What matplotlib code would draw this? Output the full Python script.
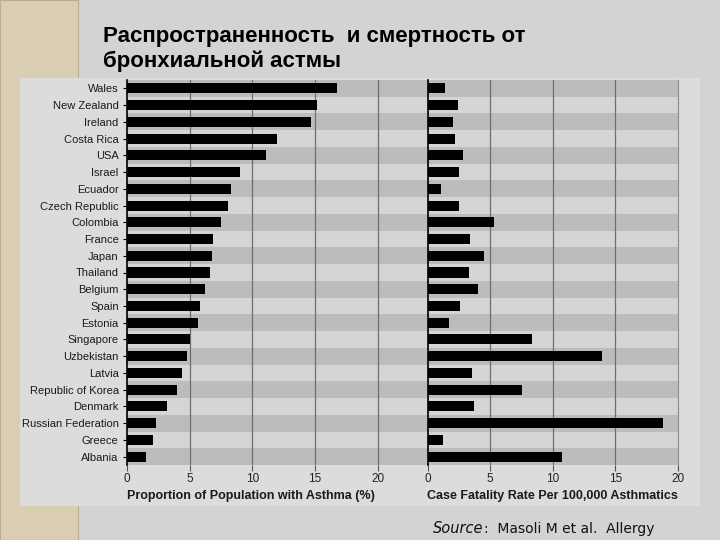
import matplotlib
matplotlib.use("Agg")
import matplotlib.pyplot as plt
from matplotlib.patches import Rectangle

# Data (top row first)
countries = [
    "Wales", "New Zealand", "Ireland", "Costa Rica", "USA", "Israel", "Ecuador",
    "Czech Republic", "Colombia", "France", "Japan", "Thailand", "Belgium",
    "Spain", "Estonia", "Singapore", "Uzbekistan", "Latvia", "Republic of Korea",
    "Denmark", "Russian Federation", "Greece", "Albania",
]
prevalence = [16.8, 15.2, 14.7, 12.0, 11.1, 9.0, 8.3, 8.1, 7.5, 6.9, 6.8, 6.6,
              6.2, 5.8, 5.7, 5.0, 4.8, 4.4, 4.0, 3.2, 2.3, 2.1, 1.5]
fatality = [1.4, 2.4, 2.0, 2.2, 2.8, 2.5, 1.1, 2.5, 5.3, 3.4, 4.5, 3.3,
            4.0, 2.6, 1.7, 8.3, 13.9, 3.5, 7.5, 3.7, 18.8, 1.2, 10.7]
ticks = [0, 5, 10, 15, 20]

title_1 = "Распространенность  и смертность от"
title_2 = "бронхиальной астмы"
xlabel_left = "Proportion of Population with Asthma (%)"
xlabel_right = "Case Fatality Rate Per 100,000 Asthmatics"

SLIDE = "#d3d3d3"
PANEL = "#dcdcdc"
BEIGE = "#d9ceb2"
STRIPE_DARK = "#bcbcbc"
STRIPE_LIGHT = "#d5d5d5"
GRID = "#6e6e6e"
FONT = "Liberation Sans"

fig = plt.figure(figsize=(7.2, 5.4), dpi=100, facecolor=SLIDE)

# slide decoration: beige strip and lighter chart panel (behind the axes)
fig.patches.append(Rectangle((0, 0), 78 / 720, 1, transform=fig.transFigure,
                             facecolor=BEIGE, edgecolor="#b8ad92", lw=0.8, zorder=-10))
fig.patches.append(Rectangle((20 / 720, 1 - 506 / 540), 680 / 720, 428 / 540,
                             transform=fig.transFigure, facecolor=PANEL,
                             edgecolor="none", zorder=-9))

n = len(countries)
ypos = list(range(n - 1, -1, -1))

bottom = 1 - 465 / 540
height = (465 - 80) / 540
ax1 = fig.add_axes([127 / 720, bottom, (427.7 - 127) / 720, height])
ax2 = fig.add_axes([427.7 / 720, bottom, (678 - 427.7) / 720, height])

for ax, values, xmax, xlabel in [(ax1, prevalence, 24, xlabel_left),
                                 (ax2, fatality, 20, xlabel_right)]:
    ax.set_facecolor(STRIPE_LIGHT)
    for i, y in enumerate(ypos):
        if i % 2 == 0:
            ax.axhspan(y - 0.5, y + 0.5, color=STRIPE_DARK, lw=0, zorder=1)
    for t in ticks[1:]:
        if t < xmax:
            ax.axvline(t, color=GRID, lw=0.9, zorder=1.5)
    ax.barh(ypos, values, height=0.6, color="black", zorder=3)
    ax.set_xlim(0, xmax)
    ax.set_ylim(-0.5, n - 0.5)
    ax.set_xticks(ticks)
    ax.set_xticklabels([str(t) for t in ticks], fontsize=8.5, family=FONT, color="#222222")
    ax.tick_params(axis="x", length=4, width=0.8, color="#555555", pad=2)
    ax.set_xlabel(xlabel, fontsize=9, fontweight="bold", family=FONT,
                  color="#1a1a1a", labelpad=3, loc="left" if ax is ax1 else "center")
    for s in ["top", "bottom", "right"]:
        ax.spines[s].set_visible(False)
    ax.spines["left"].set_color("black")
    ax.spines["left"].set_linewidth(1.2)
    ax.spines["left"].set_zorder(4)

ax1.set_yticks(ypos)
ax1.set_yticklabels(countries, fontsize=8, family=FONT, color="#1a1a1a")
ax1.tick_params(axis="y", length=3, width=0.8, pad=3)
ax2.set_yticks([])
ax2.spines["right"].set_visible(True)
ax2.spines["right"].set_color("#8a8a8a")

fig.text(103 / 720, 1 - 42 / 540, title_1, fontsize=16, fontweight="bold",
         family=FONT, va="baseline", color="black")
fig.text(103 / 720, 1 - 67 / 540, title_2, fontsize=16, fontweight="bold",
         family=FONT, va="baseline", color="black")

fig.text(433 / 720, 1 - 533 / 540, "Source", fontsize=10.5, style="italic",
         family="DejaVu Sans", va="baseline", color="#111111")
fig.text(484 / 720, 1 - 533 / 540, ":  Masoli M et al.  Allergy", fontsize=10,
         family="DejaVu Sans", va="baseline", color="#111111")

fig.savefig("out.png", dpi=100, facecolor=fig.get_facecolor())
